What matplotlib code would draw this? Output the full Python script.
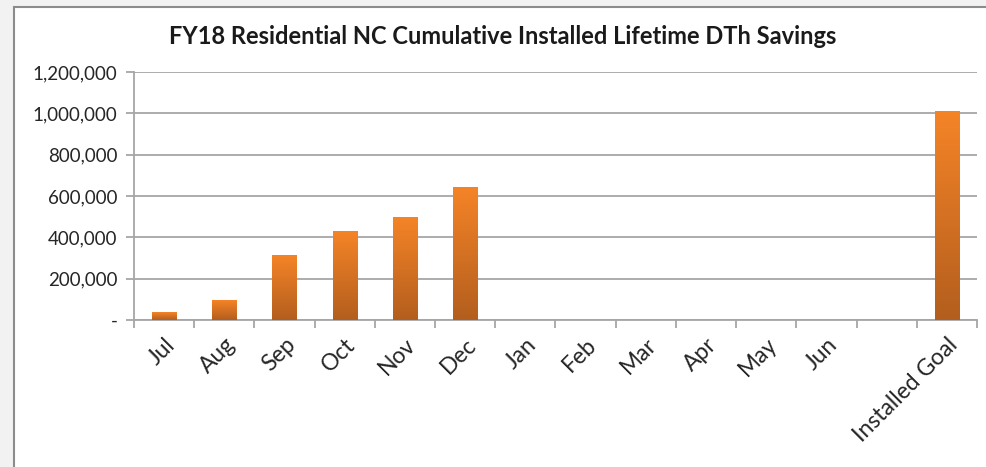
import matplotlib
matplotlib.use('Agg')
import matplotlib.pyplot as plt
import numpy as np
from matplotlib.patches import Rectangle
from matplotlib.colors import LinearSegmentedColormap
from matplotlib.ticker import FuncFormatter, MultipleLocator

# data
categories = ['Jul', 'Aug', 'Sep', 'Oct', 'Nov', 'Dec', 'Jan', 'Feb', 'Mar',
              'Apr', 'May', 'Jun', '', 'Installed Goal']
savings = [37000, 93000, 313000, 427000, 498000, 640000, 0, 0, 0,
           0, 0, 0, 0, 1011000]

plt.rcParams['font.family'] = ['Lato', 'DejaVu Sans']

fig = plt.figure(figsize=(9.87, 4.67), dpi=100)
fig.patch.set_facecolor('#f2f2f2')

# chart frame (Excel style), runs off the right and bottom edges
bg = fig.add_axes([0, 0, 1, 1], zorder=-1)
bg.set_xlim(0, 987)
bg.set_ylim(467, 0)
bg.axis('off')
bg.add_patch(Rectangle((14, 7), 1000, 500, facecolor='white',
                       edgecolor='#8c8c8c', linewidth=1.5))

ax = fig.add_axes([134 / 987, 1 - 320 / 467, (977 - 134) / 987, 248 / 467], zorder=1)
ax.set_facecolor('none')

x = np.arange(len(categories))
bars = ax.bar(x, savings, width=0.4, color='none', zorder=3)

# vertical gradient inside each bar
cmap = LinearSegmentedColormap.from_list('orange', ['#b35e1e', '#f58427'])
grad = np.linspace(0, 1, 256).reshape(-1, 1)
for b in bars:
    h = b.get_height()
    if h <= 0:
        continue
    x0 = b.get_x()
    ax.imshow(grad, cmap=cmap, origin='lower', aspect='auto',
              extent=[x0, x0 + b.get_width(), 0, h], zorder=3)

ax.set_xlim(-0.5, len(categories) - 0.5)
ax.set_ylim(0, 1200000)
ax.yaxis.set_major_locator(MultipleLocator(200000))
ax.yaxis.set_major_formatter(FuncFormatter(lambda v, p: '-' if v == 0 else f'{int(v):,}'))

ax.grid(axis='y', color='#a6a6a6', linewidth=1.3, zorder=1)
for s in ['top', 'right']:
    ax.spines[s].set_visible(False)
for s in ['left', 'bottom']:
    ax.spines[s].set_color('#a6a6a6')
    ax.spines[s].set_linewidth(1.3)

ax.tick_params(axis='y', length=6, color='#a6a6a6', width=1.3,
               labelsize=13.5, labelcolor='#262626', pad=6)

ax.set_xticks(x)
ax.set_xticklabels(categories, rotation=45, ha='right', rotation_mode='anchor',
                   fontsize=16.5, color='#262626')
ax.set_xticks(np.arange(-0.5, len(categories)), minor=True)
ax.tick_params(axis='x', which='major', length=0, pad=10)
ax.tick_params(axis='x', which='minor', length=6, color='#a6a6a6', width=1.3)

fig.text(503 / 987, 1 - 36 / 467, 'FY18 Residential NC Cumulative Installed Lifetime DTh Savings',
         ha='center', va='center', fontsize=17, fontweight='bold', color='#1a1a1a')

fig.savefig('out.png', dpi=100, facecolor=fig.get_facecolor())
